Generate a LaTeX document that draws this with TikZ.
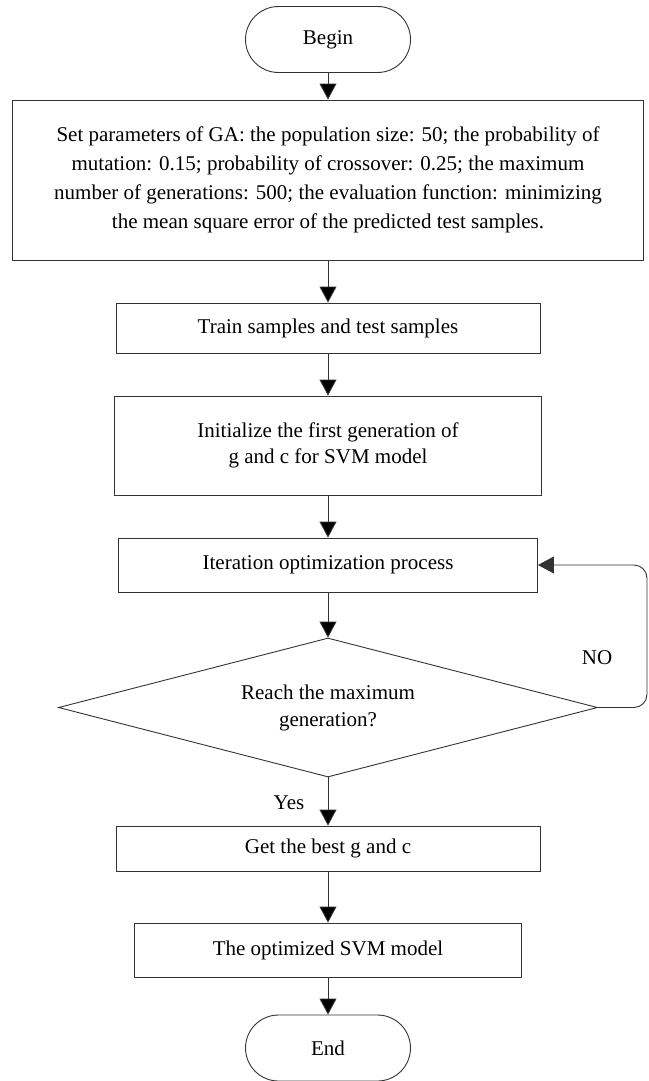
\documentclass[tikz,border=0pt]{standalone}
\usepackage{fontspec}
\setmainfont{Liberation Serif}
\usetikzlibrary{shapes.geometric,arrows.meta}

\begin{document}
\begin{tikzpicture}[x=1pt,y=-1pt,
	proc_node/.style={rectangle,draw=black!80,line width=0.9pt,align=center,inner sep=2pt,font=\fontsize{21}{26}\selectfont},
	term_node/.style={proc_node,rounded corners=33pt,minimum width=165pt,minimum height=66pt},
	dec_node/.style={diamond,draw=black!80,line width=0.9pt,align=center,inner sep=0pt,aspect=3.88,minimum width=539pt,minimum height=139pt,font=\fontsize{21}{27}\selectfont},
	flow/.style={draw=black!80,line width=0.9pt,-{Triangle[length=16pt,width=17pt]}}]

	\useasboundingbox (0,0) rectangle (648,1081);

	\node[term_node] (begin) at (328,39.5) {Begin};
	\node[proc_node,minimum width=631pt,minimum height=160pt,font=\fontsize{21}{29}\selectfont] (params) at (328,180)
		{Set parameters of GA: the population size: 50; the probability of\\
		 mutation: 0.15; probability of crossover: 0.25; the maximum\\
		 number of generations: 500; the evaluation function: minimizing\\
		 the mean square error of the predicted test samples.};
	\node[proc_node,minimum width=424pt,minimum height=50pt] (samples) at (328,328) {Train samples and test samples};
	\node[proc_node,minimum width=427pt,minimum height=99pt] (init) at (328,445.5)
		{Initialize the first generation of\\ g and c for SVM model};
	\node[proc_node,minimum width=419pt,minimum height=54pt] (iter) at (328,565) {Iteration optimization process};
	\node[dec_node] (reach) at (328,707.5) {Reach the maximum\\ generation?};
	\node[proc_node,minimum width=424pt,minimum height=45pt] (best) at (328,848.5) {Get the best g and c};
	\node[proc_node,minimum width=387pt,minimum height=54pt] (svm) at (328,950) {The optimized SVM model};
	\node[term_node] (end) at (328,1048) {End};

	\path[flow]
	(begin) edge (params)
	(params) edge (samples)
	(samples) edge (init)
	(init) edge (iter)
	(iter) edge (reach)
	(reach) edge (best)
	(best) edge (svm)
	(svm) edge (end);

	% loop back when the maximum is not reached
	\draw[flow,rounded corners=13pt] (reach.east) -- ++(49,0) |- (iter.east);
	\node[font=\fontsize{21}{24}\selectfont] (no) at (597,658) {NO};
	\node[font=\fontsize{21}{24}\selectfont] (yes) at (289,803) {Yes};
\end{tikzpicture}
\end{document}
